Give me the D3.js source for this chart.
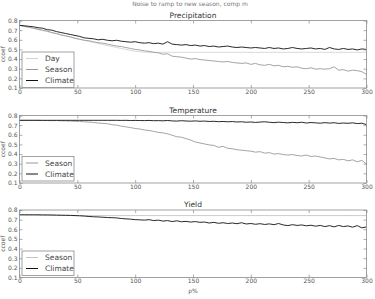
<!DOCTYPE html>
<html><head><meta charset="utf-8">
<script src="https://cdn.jsdelivr.net/npm/d3@7"></script>
<style>body{margin:0;background:#fff}svg{display:block}text{font-family:"DejaVu Sans",sans-serif}</style>
</head><body>
<svg id="c" width="375" height="299"></svg>
<script>
const xTicks = [0,50,100,150,200,250,300];
const yTicks = [0.1,0.2,0.3,0.4,0.5,0.6,0.7,0.8];
const pValues = d3.range(0, 301, 4);
const panelTitles = ["Precipitation","Temperature","Yield"];

const precipDay = [
.750,.740,.730,.720,.705,.695,.685,.672,.662,.650,
.640,.628,.618,.606,.595,.583,.572,.562,.550,.540,
.530,.520,.510,.500,.490,.482,.476,.472,.470,.470,
.470,.470,.470,.470,.470,.470,.470,.470,.470,.470,
.470,.470,.470,.470,.470,.470,.470,.470,.470,.470,
.470,.470,.470,.470,.470,.470,.470,.470,.470,.470,
.470,.470,.470,.470,.470,.470,.470,.470,.470,.470,
.470,.470,.470,.470,.470,.470];
const precipSeason = [
.750,.740,.730,.720,.710,.700,.690,.675,.665,.650,
.640,.630,.615,.605,.595,.590,.580,.570,.565,.555,
.545,.535,.530,.520,.510,.500,.495,.485,.480,.470,
.465,.450,.455,.430,.425,.420,.410,.400,.405,.395,
.390,.385,.380,.375,.370,.375,.365,.360,.355,.360,
.345,.355,.340,.335,.345,.330,.335,.320,.325,.315,
.320,.305,.300,.310,.295,.300,.295,.300,.320,.285,
.290,.275,.285,.280,.270,.240];
const precipClimate = [
.750,.745,.740,.735,.725,.720,.705,.700,.685,.675,
.665,.655,.645,.635,.620,.615,.610,.600,.605,.595,
.590,.595,.585,.580,.575,.580,.570,.565,.570,.560,
.565,.555,.580,.555,.550,.545,.550,.540,.545,.535,
.540,.530,.535,.525,.530,.535,.525,.520,.525,.520,
.515,.520,.515,.510,.520,.510,.515,.505,.510,.520,
.510,.505,.510,.515,.505,.510,.500,.520,.505,.500,
.510,.500,.505,.495,.505,.500];
const tempSeason = [
.750,.750,.750,.750,.750,.748,.748,.746,.748,.745,
.744,.742,.740,.738,.735,.732,.728,.722,.718,.715,
.705,.700,.690,.682,.675,.665,.660,.650,.645,.635,
.625,.620,.610,.595,.580,.575,.560,.545,.525,.515,
.505,.495,.490,.470,.480,.460,.455,.445,.440,.435,
.430,.420,.425,.410,.415,.400,.405,.395,.390,.395,
.385,.380,.390,.375,.380,.370,.360,.350,.355,.340,
.345,.330,.340,.320,.335,.295];
const tempClimate = [
.750,.750,.750,.750,.750,.750,.750,.750,.750,.750,
.750,.750,.750,.750,.750,.750,.750,.750,.750,.750,
.750,.750,.749,.750,.748,.749,.748,.747,.749,.746,
.747,.745,.748,.744,.742,.746,.743,.741,.744,.740,
.742,.738,.740,.736,.738,.735,.737,.733,.735,.730,
.733,.728,.732,.735,.730,.726,.731,.727,.724,.729,
.725,.730,.722,.727,.724,.720,.726,.721,.725,.718,
.722,.719,.724,.716,.720,.705];
const yieldSeason = [
.750,.749,.748,.747,.746,.745,.745,.744,.744,.743,
.743,.743,.742,.742,.742,.742,.742,.742,.742,.742,
.742,.742,.742,.742,.742,.742,.742,.742,.742,.742,
.742,.742,.742,.742,.742,.742,.742,.742,.742,.742,
.742,.742,.742,.742,.742,.742,.742,.742,.742,.742,
.742,.742,.742,.742,.742,.742,.742,.742,.742,.742,
.742,.742,.742,.742,.742,.742,.742,.742,.742,.742,
.742,.742,.742,.742,.742,.742];
const yieldClimate = [
.750,.750,.750,.750,.750,.749,.749,.748,.747,.746,
.745,.744,.742,.740,.737,.733,.730,.728,.725,.722,
.720,.718,.712,.708,.705,.700,.698,.695,.700,.690,
.695,.685,.690,.680,.688,.678,.682,.675,.680,.672,
.675,.665,.672,.662,.668,.660,.665,.658,.668,.655,
.660,.652,.658,.650,.656,.648,.660,.645,.638,.648,
.640,.645,.636,.642,.632,.640,.628,.638,.625,.640,
.628,.635,.622,.638,.615,.625];

const colors = {Day:"#d2d2d2", Season:"#9a9a9a", Climate:"#111111"};
const panels = [
  {title:panelTitles[0], top:20.5, series:[["Day",precipDay],["Season",precipSeason],["Climate",precipClimate]], legTop:52},
  {title:panelTitles[1], top:115.5, series:[["Season",tempSeason],["Climate",tempClimate]], legTop:156.5},
  {title:panelTitles[2], top:210, series:[["Season",yieldSeason,"#c4c4c4"],["Climate",yieldClimate]], legTop:251}
];

const svg = d3.select("#c");
const left = 19.5, right = 366.5, ph = 67.5;
const x = d3.scaleLinear().domain([0,300]).range([left,right]);

svg.append("text").attr("x",190).attr("y",5.5).attr("text-anchor","middle")
  .attr("font-size",6).attr("fill","#777").text("Noise to ramp to new season, comp m");

panels.forEach((p,pi)=>{
  const y = d3.scaleLinear().domain([0.1,0.8]).range([p.top+ph,p.top]);
  const g = svg.append("g");
  p.series.forEach(([name,vals,col])=>{
    const line = d3.line().x((d,i)=>x(pValues[i])).y(d=>y(d));
    g.append("path").datum(vals).attr("d",line).attr("fill","none")
      .attr("stroke",col||colors[name]).attr("stroke-width",0.9);
  });
  g.append("rect").attr("x",left).attr("y",p.top).attr("width",right-left).attr("height",ph)
    .attr("fill","none").attr("stroke","#8a8a8a").attr("stroke-width",0.8);
  const ax = g.append("g").attr("transform",`translate(0,${p.top+ph})`)
    .call(d3.axisBottom(x).tickValues(xTicks).tickSizeInner(-3).tickSizeOuter(0).tickPadding(1.5));
  const axTop = g.append("g").attr("transform",`translate(0,${p.top})`)
    .call(d3.axisTop(x).tickValues(xTicks).tickSizeInner(-3).tickSizeOuter(0).tickFormat(""));
  const ay = g.append("g").attr("transform",`translate(${left},0)`)
    .call(d3.axisLeft(y).tickValues(yTicks).tickSizeInner(-3).tickSizeOuter(0).tickPadding(2).tickFormat(d3.format(".1f")));
  const ayR = g.append("g").attr("transform",`translate(${right},0)`)
    .call(d3.axisRight(y).tickValues(yTicks).tickSizeInner(-3).tickSizeOuter(0).tickFormat(""));
  [ax,axTop,ay,ayR].forEach(a=>{
    a.select(".domain").remove();
    a.selectAll("line").attr("stroke","#8a8a8a").attr("stroke-width",0.7);
    a.selectAll("text").attr("font-size",6).attr("fill","#555").attr("font-family","DejaVu Sans, sans-serif");
  });
  g.append("text").attr("x",(left+right)/2).attr("y",p.top-3).attr("text-anchor","middle")
    .attr("font-size",7.5).attr("fill","#333").text(p.title);
  g.append("text").attr("transform",`translate(5,${p.top+ph/2}) rotate(-90)`)
    .attr("text-anchor","middle").attr("font-size",6).attr("fill","#555").text("ccoef");
  const n = p.series.length;
  const lh = 11;
  const lb = g.append("g");
  lb.append("rect").attr("x",22).attr("y",p.legTop).attr("width",52).attr("height",n*lh+2.5)
    .attr("fill","#fff").attr("stroke","#8a8a8a").attr("stroke-width",0.8);
  p.series.forEach(([name,vals,col],i)=>{
    const yy = p.legTop + 6.5 + i*lh;
    lb.append("line").attr("x1",26).attr("x2",38).attr("y1",yy).attr("y2",yy)
      .attr("stroke",col||colors[name]).attr("stroke-width",1);
    lb.append("text").attr("x",45).attr("y",yy).attr("dy","0.35em").attr("font-size",7.5)
      .attr("fill","#444").text(name);
  });
});
svg.append("text").attr("x",(left+right)/2).attr("y",293).attr("text-anchor","middle")
  .attr("font-size",6).attr("fill","#555").text("ρ%");
</script>
</body></html>
